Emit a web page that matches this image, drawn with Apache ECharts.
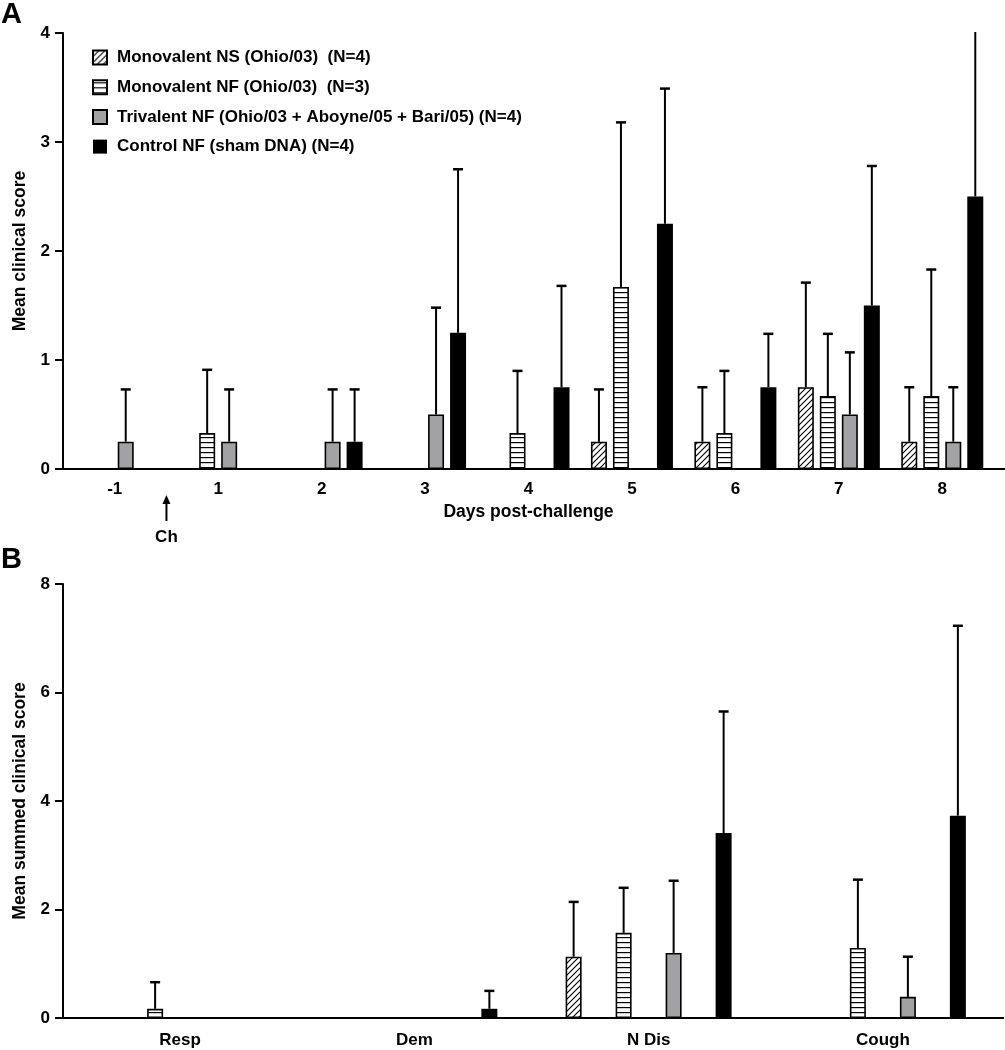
<!DOCTYPE html>
<html><head><meta charset="utf-8">
<script src="https://cdn.jsdelivr.net/npm/echarts@6/dist/echarts.min.js"></script>
<style>html,body{margin:0;padding:0;background:#fff}#c{width:1005px;height:1050px}</style>
</head><body><div id="c"></div>
<script>
// ---------- DATA ----------
const groupNames = [
  'Monovalent NS (Ohio/03)  (N=4)',
  'Monovalent NF (Ohio/03)  (N=3)',
  'Trivalent NF (Ohio/03 + Aboyne/05 + Bari/05) (N=4)',
  'Control NF (sham DNA) (N=4)'
];
// Panel A: days post-challenge
const dayLabels = ['-1', '1', '2', '3', '4', '5', '6', '7', '8'];
const dayNS      = [0, 0, 0, 0, 0, 0.25, 0.25, 0.75, 0.25];
const dayNS_sd   = [0, 0, 0, 0, 0, 0.48, 0.50, 0.96, 0.50];
const dayNF      = [0, 0.33, 0, 0, 0.33, 1.67, 0.33, 0.67, 0.67];
const dayNF_sd   = [0, 0.58, 0, 0, 0.57, 1.51, 0.57, 0.57, 1.16];
const dayTri     = [0.25, 0.25, 0.25, 0.5, 0, 0, 0, 0.5, 0.25];
const dayTri_sd  = [0.48, 0.48, 0.48, 0.98, 0, 0, 0, 0.57, 0.50];
const dayCtrl    = [0, 0, 0.25, 1.25, 0.75, 2.25, 0.75, 1.5, 2.5];
const dayCtrl_sd = [0, 0, 0.48, 1.50, 0.93, 1.24, 0.49, 1.28, 2.00];
const dayTicks = [0, 1, 2, 3, 4];
// Panel B: clinical signs
const signLabels = ['Resp', 'Dem', 'N Dis', 'Cough'];
const signNS      = [0, 0, 1.13, 0];
const signNS_sd   = [0, 0, 1.01, 0];
const signNF      = [0.17, 0, 1.57, 1.29];
const signNF_sd   = [0.49, 0, 0.83, 1.26];
const signTri     = [0, 0, 1.2, 0.39];
const signTri_sd  = [0, 0, 1.33, 0.74];
const signCtrl    = [0, 0.17, 3.41, 3.73];
const signCtrl_sd = [0, 0.33, 2.24, 3.50];
const signTicks = [0, 2, 4, 6, 8];

// ---------- STYLE ----------
const FONT = '"Liberation Sans", Arial, Helvetica, sans-serif';
const GRAY = '#a2a2a4';
function hatchPattern() {
  const s = 6, c = document.createElement('canvas'); c.width = c.height = s;
  const x = c.getContext('2d');
  x.fillStyle = '#fff'; x.fillRect(0, 0, s, s);
  x.strokeStyle = '#000'; x.lineWidth = 1.1;
  x.beginPath();
  x.moveTo(0, s); x.lineTo(s, 0);
  x.moveTo(-1, 1); x.lineTo(1, -1);
  x.moveTo(s - 1, s + 1); x.lineTo(s + 1, s - 1);
  x.stroke();
  return c;
}
function stripePattern() {
  const s = 5, c = document.createElement('canvas'); c.width = c.height = s;
  const x = c.getContext('2d');
  x.fillStyle = '#fff'; x.fillRect(0, 0, s, s);
  x.fillStyle = '#000'; x.fillRect(0, 2, s, 1.2);
  return c;
}
const fills = [
  { image: hatchPattern(), repeat: 'repeat' },
  { image: stripePattern(), repeat: 'repeat' },
  GRAY,
  '#000'
];

const chart = echarts.init(document.getElementById('c'), null, { renderer: 'canvas' });

const panels = [
  { labels: dayLabels, means: [dayNS, dayNF, dayTri, dayCtrl], sds: [dayNS_sd, dayNF_sd, dayTri_sd, dayCtrl_sd],
    barW: 16, gap: 6 },
  { labels: signLabels, means: [signNS, signNF, signTri, signCtrl], sds: [signNS_sd, signNF_sd, signTri_sd, signCtrl_sd],
    barW: 16, gap: 34 }
];

function errRender(step, g) {
  return function (params, api) {
    const i = api.value(0), m = api.value(1), up = api.value(2);
    const base = api.coord([i, m]);
    const top = api.coord([i, up]);
    const x = base[0] + (g - 1.5) * step;
    const cs = params.coordSys;
    let ty = top[1], clipped = false;
    if (ty < cs.y) { ty = cs.y - 1; clipped = true; }
    const children = [{ type: 'line', shape: { x1: x, y1: base[1], x2: x, y2: ty }, style: { stroke: '#000', lineWidth: 2 } }];
    if (!clipped) children.push({ type: 'line', shape: { x1: x - 5, y1: ty, x2: x + 5, y2: ty }, style: { stroke: '#000', lineWidth: 2.5 } });
    return { type: 'group', children };
  };
}

const series = [];
panels.forEach((p, pi) => {
  const step = p.barW + p.gap;
  p.means.forEach((arr, g) => {
    series.push({
      type: 'bar', name: groupNames[g], xAxisIndex: pi, yAxisIndex: pi,
      data: arr.map(v => v > 0 ? v : '-'),
      barWidth: p.barW, barGap: (p.gap / p.barW * 100) + '%',
      itemStyle: { color: fills[g], borderColor: '#000', borderWidth: g === 3 ? 0 : 1.6 },
      emphasis: { disabled: true }, silent: true, animation: false, z: 2
    });
  });
  p.means.forEach((arr, g) => {
    const data = [];
    arr.forEach((v, i) => { if (v > 0 && p.sds[g][i] > 0) data.push([i, v, v + p.sds[g][i]]); });
    series.push({
      type: 'custom', xAxisIndex: pi, yAxisIndex: pi, data, encode: { x: 0, y: 1 },
      renderItem: errRender(step, g), silent: true, animation: false, z: 3
    });
  });
});

const axisLineStyle = { lineStyle: { color: '#000', width: 2 } };
const labelStyle = { color: '#000', fontSize: 17, fontWeight: 'bold', fontFamily: FONT };
const nameStyle = { color: '#000', fontSize: 17.5, fontWeight: 'bold', fontFamily: FONT };

const option = {
  animation: false,
  backgroundColor: '#fff',
  textStyle: { fontFamily: FONT },
  legend: {
    data: groupNames, orient: 'vertical', left: 87, top: 44,
    itemWidth: 14, itemHeight: 14, itemGap: 12.7, icon: 'rect',
    selectedMode: false,
    textStyle: { color: '#000', fontSize: 17, fontWeight: 'bold', fontFamily: FONT, padding: [0, 0, 0, 5] }
  },
  grid: [
    { left: 63, top: 33, width: 931, height: 436 },
    { left: 63, top: 584, width: 937, height: 434 }
  ],
  xAxis: [
    { type: 'category', gridIndex: 0, data: dayLabels,
      name: 'Days post-challenge', nameLocation: 'middle', nameGap: 34,
      nameTextStyle: nameStyle,
      axisLine: axisLineStyle, axisTick: { alignWithLabel: true, length: 7, lineStyle: { color: '#000', width: 2 } },
      axisLabel: Object.assign({ margin: 12 }, labelStyle), splitLine: { show: false } },
    { type: 'category', gridIndex: 1, data: signLabels,
      axisLine: axisLineStyle, axisTick: { alignWithLabel: true, length: 7, lineStyle: { color: '#000', width: 2 } },
      axisLabel: Object.assign({ margin: 14 }, labelStyle), splitLine: { show: false } }
  ],
  yAxis: [
    { type: 'value', gridIndex: 0, min: dayTicks[0], max: dayTicks[dayTicks.length - 1], interval: 1,
      name: 'Mean clinical score', nameLocation: 'middle', nameGap: 31,
      nameTextStyle: nameStyle,
      axisLine: Object.assign({ show: true }, axisLineStyle),
      axisTick: { show: true, length: 8, lineStyle: { color: '#000', width: 2 } },
      axisLabel: Object.assign({ margin: 13 }, labelStyle), splitLine: { show: false } },
    { type: 'value', gridIndex: 1, min: signTicks[0], max: signTicks[signTicks.length - 1], interval: 2,
      name: 'Mean summed clinical score', nameLocation: 'middle', nameGap: 31,
      nameTextStyle: nameStyle,
      axisLine: Object.assign({ show: true }, axisLineStyle),
      axisTick: { show: true, length: 8, lineStyle: { color: '#000', width: 2 } },
      axisLabel: Object.assign({ margin: 13 }, labelStyle), splitLine: { show: false } }
  ],
  series
};
chart.setOption(option);

// annotations: panel letters, challenge arrow, axis extensions
const p0 = chart.convertToPixel({ gridIndex: 0 }, [0, 0]);
const p1 = chart.convertToPixel({ gridIndex: 0 }, [1, 0]);
const q0 = chart.convertToPixel({ gridIndex: 1 }, [0, 0]);
const chX = (p0[0] + p1[0]) / 2;
const axisYA = p0[1], axisYB = q0[1];
chart.setOption({
  graphic: [
    { type: 'text', left: 1, top: 0, style: { text: 'A', fill: '#000', font: 'bold 29px ' + FONT } },
    { type: 'text', left: 1, top: 545, style: { text: 'B', fill: '#000', font: 'bold 29px ' + FONT } },
    { type: 'line', shape: { x1: 63 + 931 - 1, y1: axisYA, x2: 1005, y2: axisYA }, style: { stroke: '#000', lineWidth: 2 } },
    { type: 'line', shape: { x1: 63 + 937 - 1, y1: axisYB, x2: 1004, y2: axisYB }, style: { stroke: '#000', lineWidth: 2 } },
    { type: 'line', shape: { x1: chX, y1: 502, x2: chX, y2: 521 }, style: { stroke: '#000', lineWidth: 2 } },
    { type: 'polygon', shape: { points: [[chX - 4, 504], [chX + 4, 504], [chX, 495]] }, style: { fill: '#000' } },
    { type: 'text', x: chX, y: 537, style: { text: 'Ch', fill: '#000', font: 'bold 17px ' + FONT, align: 'center', verticalAlign: 'middle' } }
  ]
});
</script>
</body></html>
